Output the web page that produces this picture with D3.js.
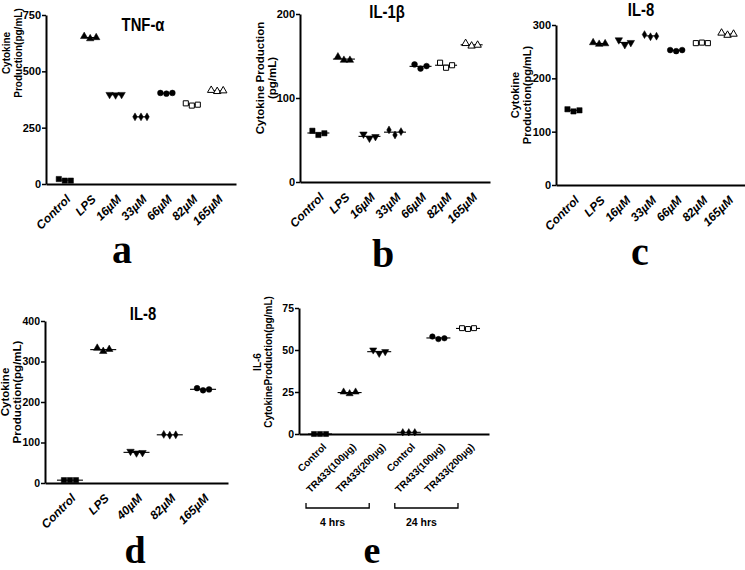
<!DOCTYPE html>
<html>
<head>
<meta charset="utf-8">
<script src="https://cdn.jsdelivr.net/npm/d3@7"></script>
<style>
  body { margin: 0; background: #fff; }
  svg { display: block; }
</style>
</head>
<body>
<script>
// a: TNF-alpha
const catsA = ["Control", "LPS", "16µM", "33µM", "66µM", "82µM", "165µM"];
const valsA = [[22, 15, 15], [655, 645, 650], [397, 395, 397], [298, 298, 298], [404, 401, 404], [358, 348, 352], [416, 411, 414]];
const ticksA = [0, 250, 500, 750];

// b: IL-1beta
const catsB = ["Control", "LPS", "16µM", "33µM", "66µM", "82µM", "165µM"];
const valsB = [[61, 56, 58], [149, 145, 145], [57, 52, 54], [62, 56, 60], [140, 135, 138], [142, 136, 139], [165, 162, 163]];
const ticksB = [0, 100, 200];

// c: IL-8
const catsC = ["Control", "LPS", "16µM", "33µM", "66µM", "82µM", "165µM"];
const valsC = [[142, 138, 140], [267, 264, 265], [272, 263, 267], [282, 278, 279], [253, 251, 253], [266, 267, 266], [285, 281, 283]];
const ticksC = [0, 100, 200, 300];

// d: IL-8
const catsD = ["Control", "LPS", "40µM", "82µM", "165µM"];
const valsD = [[7, 7, 7], [333, 325, 330], [78, 74, 75], [120, 118, 119], [234, 229, 231]];
const ticksD = [0, 100, 200, 300, 400];

// e: IL-6
const catsE = ["Control", "TR433(100µg)", "TR433(200µg)", "Control", "TR433(100µg)", "TR433(200µg)"];
const valsE = [[0, 0, 0], [25, 24, 25], [50, 48, 49], [1, 1, 1], [58, 56.5, 57], [63, 62.5, 63]];
const ticksE = [0, 25, 50, 75];
const groupsE = [{ label: "4 hrs", from: 0, to: 2 }, { label: "24 hrs", from: 3, to: 5 }];

const W = 745, H = 570;
const sans = "'Liberation Sans', Arial, sans-serif";

const svg = d3.select("body").append("svg").attr("width", W).attr("height", H);

const tri = d3.symbolTriangle, sq = d3.symbolSquare, ci = d3.symbolCircle, di = d3.symbolDiamond;
// marker: [type, flipped, open, size]
const mk7 = [[sq, 0, 0, 28], [tri, 0, 0, 24], [tri, 1, 0, 24], [di, 0, 0, 18], [ci, 0, 0, 26], [sq, 0, 1, 26], [tri, 0, 1, 24]];
const mk5 = [[sq, 0, 0, 28], [tri, 0, 0, 24], [tri, 1, 0, 24], [di, 0, 0, 18], [ci, 0, 0, 26]];
const mk6 = [[sq, 0, 0, 26], [tri, 0, 0, 22], [tri, 1, 0, 22], [di, 0, 0, 16], [ci, 0, 0, 24], [sq, 0, 1, 24]];

function panel(o) {
  const g = svg.append("g");
  const y = d3.scaleLinear().domain([0, d3.max(o.ticks)]).range([o.bottom, o.top]);
  const x = d3.scalePoint().domain(d3.range(o.cats.length)).range([o.left, o.right]).padding(o.pad);

  // y axis
  const ya = g.append("g").attr("transform", `translate(${o.left},0)`)
    .call(d3.axisLeft(y).tickValues(o.ticks).tickSize(4).tickSizeOuter(0).tickPadding(1));
  ya.select(".domain").attr("stroke-width", 2);
  ya.selectAll(".tick line").attr("stroke-width", 1.5);
  ya.selectAll(".tick text").attr("font-family", sans).attr("font-weight", "bold")
    .attr("font-size", o.tickFs || 11).attr("fill", "#000");

  // x axis
  const xa = g.append("g").attr("transform", `translate(0,${o.bottom})`)
    .call(d3.axisBottom(x).tickSize(0).tickSizeOuter(0).tickFormat(i => o.cats[i]));
  xa.select(".domain").attr("stroke-width", 2);
  xa.selectAll(".tick text")
    .attr("font-family", sans).attr("font-weight", "bold")
    .attr("font-style", o.italic ? "italic" : "normal")
    .attr("font-size", o.xFs || 12).attr("fill", "#000")
    .attr("text-anchor", "end").attr("x", 0).attr("y", 0).attr("dy", "0.35em")
    .attr("transform", `translate(${o.lx || 3},${o.ly || 13}) rotate(-45)`);

  // replicate points + mean line
  const offs = [-6, 0, 6];
  o.vals.forEach((vs, i) => {
    const cx = x(i);
    g.append("line")
      .attr("x1", cx - o.mw).attr("x2", cx + o.mw)
      .attr("y1", y(d3.mean(vs))).attr("y2", y(d3.mean(vs)))
      .attr("stroke", "#000").attr("stroke-width", 1.1);
    const m = o.marks[i];
    g.selectAll(null).data(vs).join("path")
      .attr("d", d3.symbol().type(m[0]).size(m[3]))
      .attr("transform", (v, j) => `translate(${cx + offs[j]},${y(v)})` + (m[1] ? " rotate(180)" : ""))
      .attr("fill", m[2] ? "#fff" : "#000")
      .attr("stroke", "#000").attr("stroke-width", m[2] ? 1 : 0.5);
  });

  // title (condensed like the source figure)
  if (o.title) {
    g.append("text").attr("transform", `translate(${o.title[1]},${o.title[2]}) scale(0.78,1)`)
      .attr("text-anchor", "middle")
      .attr("font-family", sans).attr("font-weight", "bold").attr("font-size", 19).text(o.title[0]);
  }

  // y label
  const yl = g.append("text")
    .attr("transform", `translate(${o.yl[0]},${o.yl[1]}) rotate(-90)`)
    .attr("text-anchor", "middle").attr("font-family", sans)
    .attr("font-weight", "bold").attr("font-size", o.ylFs);
  o.ylText.forEach((t, k) => yl.append("tspan").attr("x", 0).attr("dy", k ? o.ylGap : 0).text(t));

  // panel letter
  svg.append("text").attr("x", o.letter[1]).attr("y", o.letter[2]).attr("text-anchor", "middle")
    .attr("font-family", "'Liberation Serif', 'Times New Roman', serif").attr("font-weight", "bold")
    .attr("font-size", o.letter[3] || 40).text(o.letter[0]);

  return { g, x, y };
}

panel({ cats: catsA, vals: valsA, ticks: ticksA, marks: mk7, left: 46, right: 236, top: 15, bottom: 184, pad: 0.74,
  mw: 7, italic: true, title: ["TNF-α", 143, 31], yl: [10, 53], ylText: ["Cytokine", "Production(pg/mL)"], ylFs: 10, ylGap: 12,
  letter: ["a", 122, 263] });

panel({ cats: catsB, vals: valsB, ticks: ticksB, marks: mk7, left: 300, right: 490, top: 14, bottom: 182, pad: 0.72,
  mw: 11, italic: true, title: ["IL-1β", 387, 18], yl: [264, 78], ylText: ["Cytokine Production", "(pg/mL)"], ylFs: 11.5, ylGap: 12,
  letter: ["b", 383, 267] });

panel({ cats: catsC, vals: valsC, ticks: ticksC, marks: mk7, left: 556, right: 745, top: 25, bottom: 185, pad: 0.68,
  mw: 7, italic: true, title: ["IL-8", 641, 16], yl: [519, 95], ylText: ["Cytokine", "Production(pg/mL)"], ylFs: 11, ylGap: 12,
  letter: ["c", 640, 265] });

panel({ cats: catsD, vals: valsD, ticks: ticksD, marks: mk5, left: 45, right: 228, top: 321, bottom: 483, pad: 0.75,
  mw: 13, italic: true, tickFs: 10.5, title: ["IL-8", 143, 320], yl: [9, 392], ylText: ["Cytokine", "Production(pg/mL)"], ylFs: 11.5, ylGap: 12,
  letter: ["d", 135, 563, 38] });

const e = panel({ cats: catsE, vals: valsE, ticks: ticksE, marks: mk6, left: 299, right: 489, top: 308, bottom: 434, pad: 0.71,
  mw: 12, italic: false, xFs: 10, tickFs: 10.5, lx: 4, ly: 11, yl: [261, 362], ylText: ["IL-6", "CytokineProduction(pg/mL)"],
  ylFs: 10, ylGap: 11, letter: ["e", 372, 563, 38] });

// time-point brackets under panel e
groupsE.forEach(gr => {
  const x1 = e.x(gr.from) - 14, x2 = e.x(gr.to) - 10, yb = 508;
  e.g.append("path").attr("d", `M${x1},${yb - 5}V${yb}H${x2}V${yb - 5}`)
    .attr("fill", "none").attr("stroke", "#000").attr("stroke-width", 1.3);
  e.g.append("text").attr("x", (x1 + x2) / 2 - 5).attr("y", 526).attr("text-anchor", "middle")
    .attr("font-family", sans).attr("font-weight", "bold").attr("font-size", 10.5).text(gr.label);
});
</script>
</body>
</html>
